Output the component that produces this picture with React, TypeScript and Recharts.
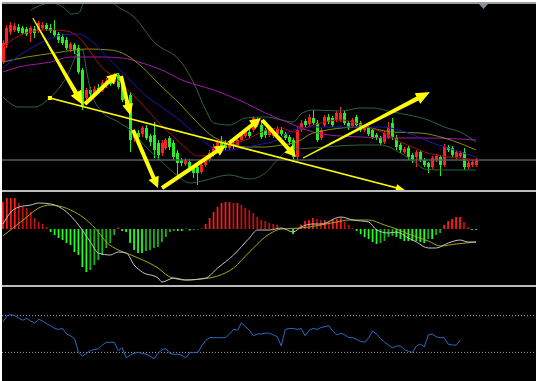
import React from "react"
import { ComposedChart, Bar, Line, XAxis, YAxis, ReferenceLine, Cell } from "recharts"

// candles: open, high, low, close (red = up, green = down)
const ohlc: number[][] = [
  [138, 160, 136, 157], [155, 175, 152, 172], [168, 178, 165, 175], [170, 177, 168, 174], [173, 176, 167, 169],
  [172, 174, 165, 167], [171, 173, 164, 166], [167, 174, 158, 172], [171, 174, 162, 167], [169, 179, 167, 177],
  [172, 178, 170, 175], [175, 177, 169, 171], [172, 176, 167, 169], [170, 180, 163, 165], [166, 168, 157, 160],
  [163, 166, 155, 157], [160, 163, 150, 152], [151, 158, 148, 156], [155, 157, 146, 150], [152, 155, 126, 128],
  [130, 132, 90, 93], [102, 112, 100, 110], [110, 113, 103, 106], [106, 114, 104, 111], [112, 116, 106, 109],
  [110, 120, 108, 117], [115, 122, 112, 119], [120, 123, 114, 116], [118, 127, 116, 124], [125, 127, 111, 113],
  [120, 122, 98, 100], [103, 106, 90, 93], [105, 108, 48, 60], [62, 70, 58, 67], [67, 70, 60, 63],
  [66, 74, 63, 72], [72, 75, 60, 62], [64, 66, 54, 58], [65, 78, 42, 50], [57, 60, 40, 45],
  [47, 60, 44, 57], [52, 62, 50, 60], [62, 64, 50, 53], [57, 60, 40, 43], [47, 50, 23, 37],
  [40, 42, 34, 37], [36, 42, 34, 40], [38, 41, 28, 30], [33, 35, 22, 27], [33, 35, 15, 27],
  [28, 37, 26, 35], [35, 43, 33, 40], [40, 50, 38, 47], [45, 56, 43, 53], [50, 60, 48, 58],
  [58, 64, 51, 53], [56, 60, 50, 52], [52, 58, 50, 56], [56, 58, 51, 54], [55, 63, 53, 60],
  [60, 67, 58, 65], [64, 70, 62, 68], [68, 72, 62, 64], [70, 84, 68, 82], [75, 83, 73, 80],
  [75, 80, 61, 63], [70, 72, 62, 65], [65, 72, 63, 70], [64, 70, 62, 68], [66, 74, 64, 71],
  [70, 73, 64, 66], [66, 68, 60, 62], [63, 65, 55, 58], [60, 62, 40, 43], [43, 73, 38, 70],
  [70, 80, 68, 77], [79, 81, 73, 75], [76, 86, 74, 83], [82, 90, 75, 77], [77, 80, 58, 60],
  [62, 72, 60, 70], [75, 85, 73, 83], [83, 86, 76, 78], [82, 84, 73, 75], [80, 89, 78, 87],
  [80, 93, 78, 87], [87, 89, 75, 77], [77, 79, 70, 72], [74, 82, 72, 80], [83, 85, 73, 75],
  [77, 79, 68, 70], [70, 76, 68, 74], [72, 74, 64, 66], [70, 72, 61, 63], [65, 67, 60, 62],
  [62, 64, 55, 57], [58, 69, 56, 67], [63, 78, 61, 73], [77, 82, 60, 63], [62, 65, 50, 53],
  [55, 57, 47, 50], [48, 53, 46, 51], [52, 54, 40, 43], [45, 47, 37, 40], [43, 50, 33, 48],
  [48, 50, 38, 40], [40, 42, 33, 35], [37, 38, 27, 33], [33, 44, 31, 42], [40, 46, 38, 44],
  [43, 45, 24, 35], [35, 56, 33, 53], [53, 55, 48, 50], [52, 54, 43, 45], [43, 50, 41, 48],
  [44, 49, 42, 47], [48, 52, 30, 33], [33, 39, 31, 37], [35, 40, 33, 38], [35, 42, 33, 40],
]
const lastPrice = 40

// moving averages and bands: [bar index, price]
const redMA = [[0, 153], [3, 162], [5, 166], [8, 169], [10, 170], [13, 170], [16, 169], [19, 163], [22, 148], [25, 132], [28, 123], [31, 112], [34, 100], [37, 87], [40, 74], [43, 63], [46, 52], [49, 44], [52, 45], [55, 53], [58, 57], [61, 60], [64, 66], [67, 71], [70, 72], [73, 68], [76, 72], [79, 76], [82, 79], [85, 80], [88, 78], [91, 74], [94, 70], [97, 65], [100, 58], [103, 53], [106, 48], [109, 45], [112, 43], [115, 42], [119, 40]]
const blueMA = [[0, 132], [5, 147], [10, 158], [15, 165], [19, 166], [22, 160], [26, 144], [31, 124], [36, 104], [41, 90], [45, 78], [50, 60], [55, 49], [59, 51], [64, 55], [69, 60], [73, 70], [78, 73], [90, 73], [95, 73], [102, 67], [108, 57], [112, 52], [119, 43]]
const oliveMA = [[0, 138], [6, 143], [13, 147], [18, 150], [21, 151], [27, 150], [30, 147], [35, 133], [39, 117], [45, 94], [49, 77], [53, 63], [57, 57], [61, 53], [66, 53], [70, 55], [74, 58], [78, 67], [90, 73], [98, 68], [105, 67], [111, 62], [119, 50]]
const purpleMA = [[0, 128], [4, 133], [12, 138], [17, 143], [25, 143], [30, 142], [35, 137], [40, 130], [45, 120], [53, 110], [61, 97], [66, 87], [72, 77], [78, 68], [82, 65], [90, 63], [98, 62], [107, 62], [119, 60]]
const bandUpper = [[7, 190], [9, 194], [12, 197], [16, 190], [17, 186], [19, 187], [21, 205], [24, 215], [27, 200], [28, 196], [33, 183], [38, 158], [45, 137], [48, 117], [51, 90], [53, 77], [57, 75], [61, 82], [66, 83], [70, 80], [73, 78], [75, 86], [78, 90], [85, 89], [90, 92], [93, 92], [98, 88], [102, 85], [107, 80], [111, 73], [115, 68], [119, 58]]
const bandLower = [[0, 103], [4, 93], [8, 93], [12, 103], [16, 123], [19, 148], [20, 150], [21, 130], [22, 110], [25, 88], [29, 78], [32, 70], [36, 53], [40, 38], [44, 24], [47, 17], [50, 19], [57, 25], [62, 21], [66, 27], [69, 40], [72, 50], [78, 52], [90, 55], [95, 55], [100, 47], [104, 37], [106, 31], [110, 30], [119, 30]]

// hand drawn arrows: from / to as [bar index, price]
const trendArrows = [
  { kind: "taper", from: [7.5, 182], to: [20.1, 95] },
  { kind: "thick", from: [20.6, 96], to: [28.9, 127] },
  { kind: "thick", from: [29.7, 124], to: [32, 85] },
  { kind: "thick", from: [32.7, 70], to: [39, 12] },
  { kind: "thick", from: [40, 12], to: [56.1, 55] },
  { kind: "thick", from: [56.9, 57], to: [64.9, 82] },
  { kind: "thick", from: [65.2, 80], to: [73.7, 43] },
  { kind: "taper", from: [75.5, 42], to: [107.4, 108] },
  { kind: "line", from: [11.8, 102], to: [101.1, 10] },
]

const macdHist = [
  27, 31, 31, 31, 26, 22, 21, 17, 11, 7,
  5, 2, -3, -6, -9, -11, -14, -16, -23, -26,
  -38, -43, -41, -36, -31, -26, -19, -14, -6, 1.5,
  -2, -3, -14, -21, -24, -24, -22, -21, -19, -18,
  -13, -8, -3, -2, -2, -2, 0.5, -1.5, -1, -0.5,
  0.5, 5, 11, 17, 22, 26, 27, 27, 26, 26,
  24, 21, 19, 16, 12, 9, 8, 6, 5, 4,
  1, 0.3, 0, -5, 1, 4.5, 8, 9, 11, 10,
  9, 9, 8, 10, 10, 11, 7, 4, 1, -2,
  -5, -8, -10, -13, -15, -14, -12, -8, -7, -8,
  -10, -12, -12, -12, -12, -13, -14, -10, -10, -6,
  -4, 4, 8, 10, 12, 12, 7, 2, -1, -1,
]
const macdMain = [[0, 5], [2, 17], [4, 22], [7, 24], [9, 26], [12, 25], [16, 17], [19, 4], [22, -13], [24, -24], [27, -26], [29, -23], [31, -24], [33, -36], [35, -43], [39, -49], [40, -53], [43, -49], [46, -51], [51, -49], [54, -39], [58, -26], [62, -9], [64, -1], [67, -1], [70, 1], [73, -3], [75, 2], [78, 5], [80, 5], [85, 12], [88, 9], [92, 7], [94, -1], [97, -4], [99, -3], [102, -9], [104, -13], [107, -19], [109, -19], [112, -14], [115, -11], [117, -13], [119, -13]]
const macdSignal = [[0, -7], [2.5, 1], [6, 12], [9, 21], [12, 24], [14, 23], [18, 17], [21, 9], [24, -3], [26, -13], [29, -21], [31, -24], [34, -29], [39, -39], [42, -48], [46, -51], [50, -50], [54, -47], [58, -39], [62, -23], [67, -5], [70, 0], [75, 1], [84, 7], [87, 9], [92, 9], [96, 4], [99, 0], [102, -5], [107, -12], [110, -17], [114, -15], [119, -13]]

const rsi = [
  63, 70, 71, 70, 67, 65, 67, 64, 62, 66,
  64, 61, 59, 56, 55, 56, 50, 48, 45, 30,
  26, 29, 32, 33, 34, 38, 41, 41, 41, 32,
  35, 24, 27, 29, 30, 29, 28, 26, 23, 29,
  33, 34, 29, 28, 28, 27, 24, 30, 30, 30,
  37, 43, 46, 46, 46, 46, 46, 50, 55, 54,
  62, 58, 54, 48, 50, 50, 51, 51, 49, 47,
  37, 55, 56, 56, 55, 56, 48, 54, 56, 55,
  57, 58, 59, 53, 49, 51, 49, 46, 46, 44,
  42, 41, 46, 53, 50, 45, 41, 38, 35, 37,
  37, 33, 31, 30, 37, 39, 36, 49, 50, 47,
  46, 46, 39, 38, 38, 43,
]
const rsiLevels = [70, 30]

const W = 534
const X_DOMAIN: [number, number] = [-0.25, 134.09]
const M = { top: 0, right: 0, bottom: 0, left: 0 }

const candleRows = ohlc.map(([o, h, l, c], i) => ({ i, o, h, l, c, range: [l, h] }))
const rows = (pts: number[][]) => pts.map(([i, v]) => ({ i, v }))
const histRows = macdHist.map((v, i) => ({ i, v }))
const rsiRows = rsi.map((v, i) => ({ i, v }))

const UP = "#ff2020"
const DOWN = "#22f022"

function Candle(p: any) {
  const { x, y, width, height, payload } = p
  if (x == null || !payload) return null
  const { o, h, l, c } = payload
  const k = h - l > 0 ? height / (h - l) : 0
  const yo = y + (h - o) * k
  const yc = y + (h - c) * k
  const color = c >= o ? UP : DOWN
  const cx = Math.round(x + width / 2) + 0.5
  return (
    <g>
      <line x1={cx} x2={cx} y1={y} y2={y + height} stroke={color} strokeWidth={1} />
      <rect x={cx - 1.5} y={Math.min(yo, yc)} width={3} height={Math.max(1, Math.abs(yc - yo))} fill={color} />
    </g>
  )
}

const arrowStyle: Record<string, { w0: number; w1: number; hl: number; hw: number }> = {
  taper: { w0: 1, w1: 4.5, hl: 14, hw: 12 },
  thick: { w0: 4, w1: 4, hl: 11, hw: 11 },
  line: { w0: 1.6, w1: 1.6, hl: 9, hw: 7 },
}

function ArrowShape(p: any) {
  const { x1, y1, x2, y2, kind } = p
  if ([x1, y1, x2, y2].some((v) => typeof v !== "number" || isNaN(v))) return null
  const s = arrowStyle[kind]
  const len = Math.hypot(x2 - x1, y2 - y1)
  const ux = (x2 - x1) / len
  const uy = (y2 - y1) / len
  const nx = -uy
  const ny = ux
  const bx = x2 - ux * s.hl
  const by = y2 - uy * s.hl
  const pts = [
    [x1 + (nx * s.w0) / 2, y1 + (ny * s.w0) / 2],
    [bx + (nx * s.w1) / 2, by + (ny * s.w1) / 2],
    [bx + (nx * s.hw) / 2, by + (ny * s.hw) / 2],
    [x2, y2],
    [bx - (nx * s.hw) / 2, by - (ny * s.hw) / 2],
    [bx - (nx * s.w1) / 2, by - (ny * s.w1) / 2],
    [x1 - (nx * s.w0) / 2, y1 - (ny * s.w0) / 2],
  ]
  return (
    <g>
      <polygon points={pts.map((q) => q.join(",")).join(" ")} fill="#ffff00" />
      {kind === "line" && <rect x={x1 - 2} y={y1 - 2} width={4} height={4} fill="#ffff00" />}
    </g>
  )
}

function histColor(i: number) {
  const v = macdHist[i]
  const prev = i > 0 ? macdHist[i - 1] : 0
  if (v >= 0) return v >= prev ? "#ff1a1a" : "#c01010"
  return v <= prev ? "#20ff20" : "#14b814"
}

function PricePane() {
  return (
    <ComposedChart width={W} height={186} data={candleRows} margin={M}>
      <XAxis dataKey="i" type="number" domain={X_DOMAIN} allowDataOverflow hide />
      <YAxis type="number" domain={[10, 196]} allowDataOverflow hide />
      <ReferenceLine y={lastPrice} stroke="#4f5d69" strokeWidth={1.5} />
      <Line data={rows(bandUpper)} dataKey="v" type="monotone" stroke="#2f6344" strokeWidth={1} dot={false} isAnimationActive={false} />
      <Line data={rows(bandLower)} dataKey="v" type="monotone" stroke="#2f6344" strokeWidth={1} dot={false} isAnimationActive={false} />
      <Bar dataKey="range" barSize={3} shape={Candle} isAnimationActive={false} />
      <Line data={rows(purpleMA)} dataKey="v" type="monotone" stroke="#a01aa8" strokeWidth={1} dot={false} isAnimationActive={false} />
      <Line data={rows(oliveMA)} dataKey="v" type="monotone" stroke="#8a8a12" strokeWidth={1} dot={false} isAnimationActive={false} />
      <Line data={rows(blueMA)} dataKey="v" type="monotone" stroke="#1a1ab4" strokeWidth={1} dot={false} isAnimationActive={false} />
      <Line data={rows(redMA)} dataKey="v" type="monotone" stroke="#a81010" strokeWidth={1} dot={false} isAnimationActive={false} />
      {trendArrows.map((a, k) => (
        <ReferenceLine
          key={k}
          segment={[{ x: a.from[0], y: a.from[1] }, { x: a.to[0], y: a.to[1] }]}
          ifOverflow="visible"
          shape={(p: any) => <ArrowShape {...p} kind={a.kind} />}
        />
      ))}
    </ComposedChart>
  )
}

function MacdPane() {
  return (
    <ComposedChart width={W} height={92} data={histRows} margin={M}>
      <XAxis dataKey="i" type="number" domain={X_DOMAIN} allowDataOverflow hide />
      <YAxis type="number" domain={[-56, 36]} allowDataOverflow hide />
      <Bar dataKey="v" barSize={2} isAnimationActive={false}>
        {histRows.map((r) => (
          <Cell key={r.i} fill={histColor(r.i)} />
        ))}
      </Bar>
      <Line data={rows(macdSignal)} dataKey="v" type="monotone" stroke="#a8a80c" strokeWidth={1} dot={false} isAnimationActive={false} />
      <Line data={rows(macdMain)} dataKey="v" type="monotone" stroke="#c4c4c4" strokeWidth={1} dot={false} isAnimationActive={false} />
    </ComposedChart>
  )
}

function RsiPane() {
  return (
    <ComposedChart width={W} height={92} data={rsiRows} margin={M}>
      <XAxis dataKey="i" type="number" domain={X_DOMAIN} allowDataOverflow hide />
      <YAxis type="number" domain={[0, 100]} allowDataOverflow hide />
      {rsiLevels.map((lv) => (
        <ReferenceLine key={lv} y={lv} stroke="#a8a8a8" strokeDasharray="1 2" />
      ))}
      <Line dataKey="v" type="linear" stroke="#2a6cc6" strokeWidth={1} dot={false} isAnimationActive={false} />
    </ComposedChart>
  )
}

export default function App() {
  return (
    <div style={{ position: "relative", width: 538, height: 381, background: "#fff", overflow: "hidden" }}>
      <style>{"body{margin:0}"}</style>
      <div style={{ position: "absolute", left: 2, top: 2, width: W, height: 2, background: "#9c9c9c" }} />
      <div style={{ position: "absolute", left: 2, top: 4, width: W, height: 377, background: "#000", overflow: "hidden" }}>
        <div style={{ position: "absolute", left: 0, top: 0 }}>
          <PricePane />
        </div>
        <div style={{ position: "absolute", left: 0, top: 186, width: W, height: 2, background: "#bcbcbc" }} />
        <div style={{ position: "absolute", left: 0, top: 189 }}>
          <MacdPane />
        </div>
        <div style={{ position: "absolute", left: 0, top: 281, width: W, height: 2, background: "#bcbcbc" }} />
        <div style={{ position: "absolute", left: 0, top: 284 }}>
          <RsiPane />
        </div>
        <svg style={{ position: "absolute", left: 0, top: 0 }} width={W} height={10}>
          <polygon points="477,0 486,0 481.5,5" fill="#7d8d9c" />
        </svg>
      </div>
    </div>
  )
}
